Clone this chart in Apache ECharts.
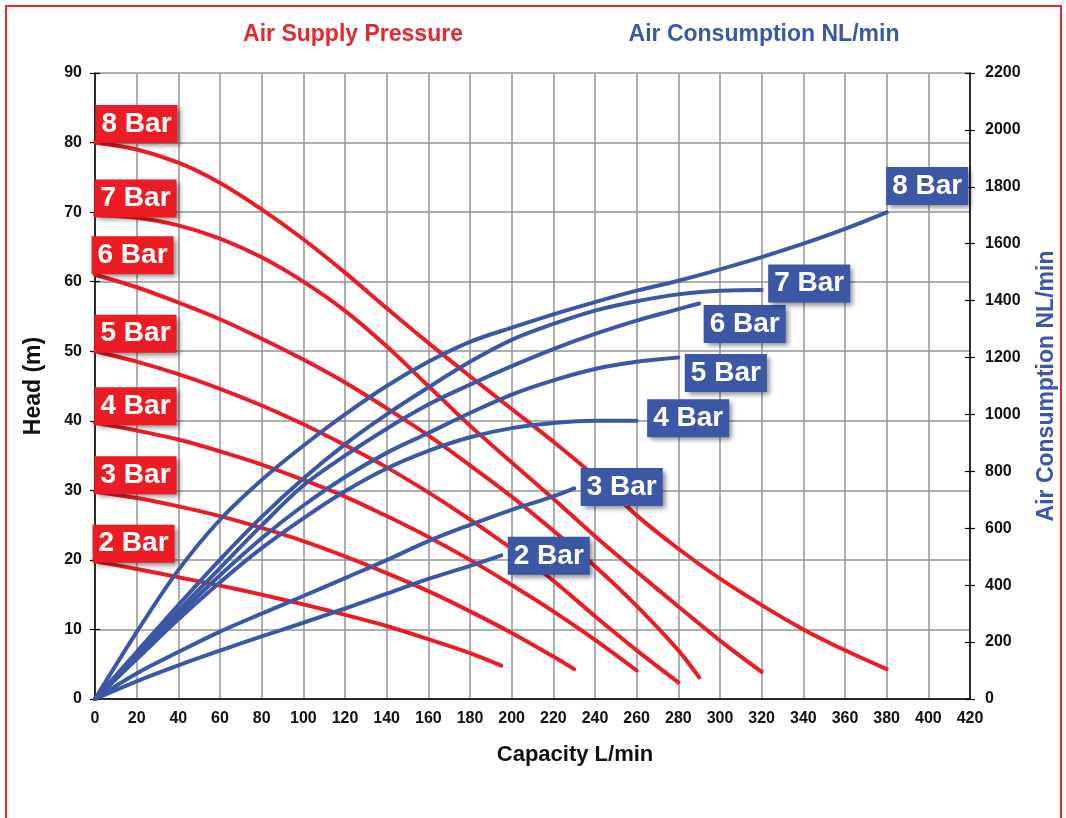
<!DOCTYPE html>
<html>
<head>
<meta charset="utf-8">
<script src="https://cdn.jsdelivr.net/npm/echarts@6/dist/echarts.min.js"></script>
<style>
html,body{margin:0;padding:0;background:#ffffff;}
#chart{width:1066px;height:818px;}
</style>
</head>
<body>
<div id="chart"></div>
<script>
// ---------- data ----------
const pressureNames = ['2 Bar', '3 Bar', '4 Bar', '5 Bar', '6 Bar', '7 Bar', '8 Bar'];

// Head (m) vs capacity (L/min)
const head2Bar = [[0,19.8],[20,18.7],[40,17.5],[60,16.3],[80,15.0],[100,13.6],[120,12.1],[140,10.5],[160,8.6],[180,6.6],[195,4.8]];
const head3Bar = [[0,29.8],[20,28.9],[40,27.7],[60,26.3],[80,24.6],[100,22.7],[120,20.5],[140,18.1],[160,15.5],[180,12.6],[200,9.5],[220,6.1],[230,4.3]];
const head4Bar = [[0,39.7],[20,38.6],[40,37.3],[60,35.6],[80,33.7],[100,31.5],[120,29.1],[140,26.3],[160,23.3],[180,20.0],[200,16.4],[220,12.6],[240,8.5],[260,4.1]];
const head5Bar = [[0,50.0],[20,48.5],[40,46.7],[60,44.6],[80,42.2],[100,39.5],[120,36.5],[140,33.3],[160,29.7],[180,25.8],[200,21.6],[220,17.0],[240,11.9],[260,7.0],[280,2.4]];
const head6Bar = [[0,61.0],[20,59.2],[40,57.0],[60,54.6],[80,51.8],[100,48.8],[120,45.5],[140,41.8],[160,37.9],[180,33.6],[200,29.1],[220,24.2],[240,19.1],[260,13.4],[280,7.0],[290,3.1]];
const head7Bar = [[0,69.6],[20,69.2],[40,68.1],[60,66.2],[80,63.5],[100,60.0],[120,55.8],[140,50.7],[160,45.0],[180,39.3],[200,34.0],[220,28.8],[240,23.4],[260,18.3],[280,13.3],[300,8.4],[320,3.9]];
const head8Bar = [[0,80.0],[20,79.0],[40,77.1],[60,74.2],[80,70.4],[100,66.1],[120,61.3],[140,56.2],[160,51.2],[180,46.4],[200,41.7],[220,37.0],[240,32.0],[260,26.4],[280,21.6],[300,17.3],[320,13.5],[340,10.0],[360,7.0],[380,4.3]];

// Air consumption (NL/min) vs capacity (L/min)
const air2Bar = [[0,0],[20,62],[40,118],[60,170],[80,220],[100,268],[120,318],[140,370],[160,422],[180,468],[195,505]];
const air3Bar = [[0,0],[20,90],[40,165],[60,237],[80,300],[100,362],[120,425],[140,488],[160,555],[180,612],[200,665],[220,712],[230,740]];
const air4Bar = [[0,0],[20,140],[40,280],[60,410],[80,530],[100,635],[120,730],[140,810],[160,872],[180,920],[200,952],[220,970],[240,978],[260,978]];
const air5Bar = [[0,0],[20,148],[40,295],[60,435],[80,565],[100,680],[120,780],[140,865],[160,935],[180,1005],[200,1070],[220,1120],[240,1160],[260,1185],[280,1200]];
const air6Bar = [[0,0],[20,155],[40,310],[60,460],[80,610],[100,750],[120,855],[140,950],[160,1035],[180,1105],[200,1170],[220,1230],[240,1283],[260,1330],[280,1370],[290,1390]];
const air7Bar = [[0,0],[20,165],[40,330],[60,490],[80,640],[100,775],[120,895],[140,1000],[160,1095],[180,1185],[200,1262],[220,1318],[240,1365],[260,1398],[280,1422],[300,1435],[320,1437]];
const air8Bar = [[0,0],[20,235],[40,453],[60,630],[80,770],[100,890],[120,1000],[140,1100],[160,1185],[180,1255],[200,1305],[220,1352],[240,1395],[260,1435],[280,1470],[300,1510],[320,1553],[340,1600],[360,1652],[380,1710]];

// axis ranges / ticks
const capacityAxis = {min: 0, max: 420, interval: 20};
const headAxis = {min: 0, max: 90, interval: 10};
const airAxis = {min: 0, max: 2200, interval: 200};

// ---------- styling ----------
const RED = '#ed1c24';
const BLUE = '#3b57a6';
const FONT = '"Liberation Sans", Arial, Helvetica, sans-serif';
const headSets = [head2Bar, head3Bar, head4Bar, head5Bar, head6Bar, head7Bar, head8Bar];
const airSets = [air2Bar, air3Bar, air4Bar, air5Bar, air6Bar, air7Bar, air8Bar];

// label placement (style only)
const redLabelPlace = [
  {align: 'left', verticalAlign: 'bottom', offset: [-2, 2]},
  {align: 'left', verticalAlign: 'bottom', offset: [0, 3]},
  {align: 'left', verticalAlign: 'bottom', offset: [0, 3]},
  {align: 'left', verticalAlign: 'bottom', offset: [0, 2]},
  {align: 'left', verticalAlign: 'bottom', offset: [-3, 0]},
  {align: 'left', verticalAlign: 'bottom', offset: [0, 3]},
  {align: 'left', verticalAlign: 'bottom', offset: [1, 1]}
];
const blueLabelPlace = [
  {align: 'left', verticalAlign: 'middle', offset: [7, 1]},
  {align: 'left', verticalAlign: 'middle', offset: [7, -1]},
  {align: 'left', verticalAlign: 'middle', offset: [11, -2]},
  {align: 'left', verticalAlign: 'top', offset: [7, -3]},
  {align: 'left', verticalAlign: 'top', offset: [5, 2]},
  {align: 'left', verticalAlign: 'middle', offset: [7, -6]},
  {align: 'left', verticalAlign: 'bottom', offset: [0, -7]}
];

function boxLabel(text, bg, place) {
  return {
    show: true,
    formatter: text,
    position: [0, 0],
    align: place.align,
    verticalAlign: place.verticalAlign,
    offset: place.offset,
    opacity: 1,
    color: '#ffffff',
    fontFamily: FONT,
    fontWeight: 'bold',
    fontSize: 28,
    lineHeight: 28,
    backgroundColor: bg,
    padding: [5, 6, 5, 6],
    shadowColor: 'rgba(0,0,0,0.45)',
    shadowBlur: 5,
    shadowOffsetX: 3,
    shadowOffsetY: 3
  };
}

const series = [];
headSets.forEach(function (d, i) {
  series.push({
    type: 'line', name: 'head ' + pressureNames[i], xAxisIndex: 0, yAxisIndex: 0,
    data: d, smooth: 0.35, showSymbol: false, silent: true,
    lineStyle: {color: RED, width: 4, cap: 'round'}, z: 2
  });
});
airSets.forEach(function (d, i) {
  series.push({
    type: 'line', name: 'air ' + pressureNames[i], xAxisIndex: 0, yAxisIndex: 1,
    data: d, smooth: 0.35, showSymbol: false, silent: true,
    lineStyle: {color: BLUE, width: 4, cap: 'round'}, z: 3
  });
});
headSets.forEach(function (d, i) {
  series.push({
    type: 'scatter', xAxisIndex: 0, yAxisIndex: 0, silent: true,
    data: [d[0]], symbolSize: 1, itemStyle: {color: 'rgba(0,0,0,0)', opacity: 1},
    label: boxLabel(pressureNames[i], RED, redLabelPlace[i]), z: 6
  });
});
airSets.forEach(function (d, i) {
  series.push({
    type: 'scatter', xAxisIndex: 0, yAxisIndex: 1, silent: true,
    data: [d[d.length - 1]], symbolSize: 1, itemStyle: {color: 'rgba(0,0,0,0)', opacity: 1},
    label: boxLabel(pressureNames[i], BLUE, blueLabelPlace[i]), z: 7
  });
});

const tickLabel = {color: '#111', fontFamily: FONT, fontWeight: 'bold', fontSize: 16};
const gridLine = {show: true, lineStyle: {color: '#959595', width: 1.5}};
const plainNumber = function (v) { return String(v); };

const option = {
  animation: false,
  backgroundColor: '#ffffff',
  grid: {left: 95, right: 96, top: 73, bottom: 119, containLabel: false},
  graphic: [
    {type: 'rect', silent: true, z: 0,
     shape: {x: 6, y: 6, width: 1055, height: 840},
     style: {fill: 'none', stroke: '#ee2a2f', lineWidth: 2}},
    {type: 'text', silent: true, x: 353, y: 35,
     style: {text: 'Air Supply Pressure', fill: '#e8262d', font: 'bold 23px ' + FONT,
             textAlign: 'center', textVerticalAlign: 'middle'}},
    {type: 'text', silent: true, x: 764, y: 35,
     style: {text: 'Air Consumption NL/min', fill: BLUE, font: 'bold 23px ' + FONT,
             textAlign: 'center', textVerticalAlign: 'middle'}},
    {type: 'text', silent: true, x: 575, y: 755,
     style: {text: 'Capacity L/min', fill: '#111', font: 'bold 22px ' + FONT,
             textAlign: 'center', textVerticalAlign: 'middle'}}
  ],
  xAxis: [{
    type: 'value', min: capacityAxis.min, max: capacityAxis.max, interval: capacityAxis.interval,
    axisLine: {show: true, onZero: false, lineStyle: {color: '#000', width: 1.5}},
    axisTick: {show: false},
    axisLabel: Object.assign({margin: 12, formatter: plainNumber}, tickLabel),
    splitLine: gridLine
  }],
  yAxis: [{
    type: 'value', position: 'left', min: headAxis.min, max: headAxis.max, interval: headAxis.interval,
    axisLine: {show: true, lineStyle: {color: '#000', width: 1.5}},
    axisTick: {show: true, inside: false, length: 5, lineStyle: {color: '#000', width: 1.2}},
    axisLabel: Object.assign({margin: 13, formatter: plainNumber}, tickLabel),
    splitLine: gridLine,
    name: 'Head (m)', nameLocation: 'middle', nameGap: 50, nameRotate: 90,
    nameTextStyle: {color: '#111', fontFamily: FONT, fontWeight: 'bold', fontSize: 23}
  }, {
    type: 'value', position: 'right', min: airAxis.min, max: airAxis.max, interval: airAxis.interval,
    axisLine: {show: true, lineStyle: {color: '#000', width: 1.5}},
    axisTick: {show: true, inside: false, length: 5, lineStyle: {color: '#000', width: 1.2}},
    axisLabel: Object.assign({margin: 15, formatter: plainNumber}, tickLabel),
    splitLine: {show: false},
    name: 'Air Consumption NL/min', nameLocation: 'middle', nameGap: 65, nameRotate: 90,
    nameTextStyle: {color: BLUE, fontFamily: FONT, fontWeight: 'bold', fontSize: 23}
  }, {
    type: 'value', position: 'left', min: headAxis.min, max: headAxis.max, interval: headAxis.interval,
    axisLine: {show: false}, axisLabel: {show: false}, splitLine: {show: false},
    axisTick: {show: true, inside: true, length: 5, lineStyle: {color: '#000', width: 1.2}}
  }, {
    type: 'value', position: 'right', min: airAxis.min, max: airAxis.max, interval: airAxis.interval,
    axisLine: {show: false}, axisLabel: {show: false}, splitLine: {show: false},
    axisTick: {show: true, inside: true, length: 5, lineStyle: {color: '#000', width: 1.2}}
  }],
  series: series
};

const chart = echarts.init(document.getElementById('chart'), null, {renderer: 'canvas'});
chart.setOption(option);
</script>
</body>
</html>
